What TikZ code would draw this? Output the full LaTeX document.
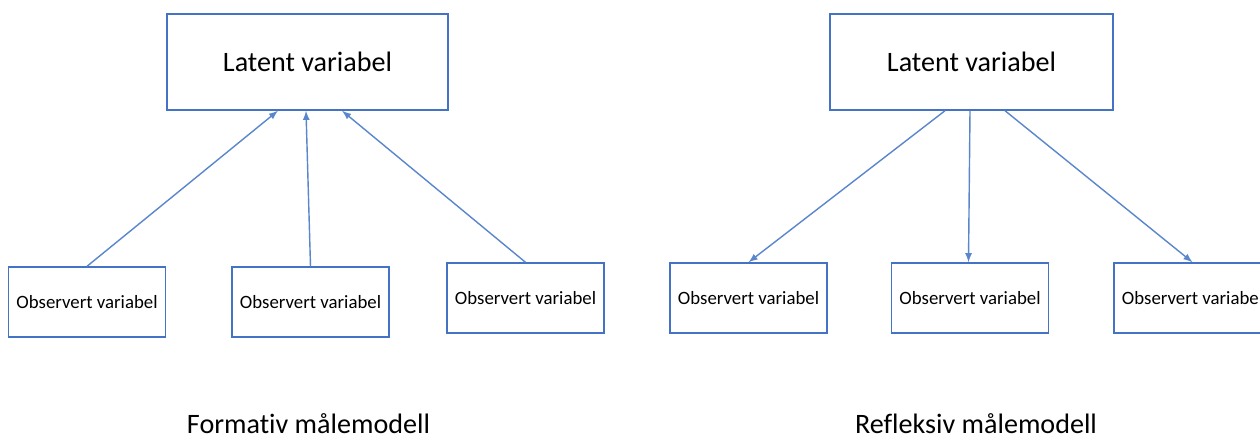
\documentclass[tikz,border=0pt]{standalone}
\usepackage{fontspec}
\setmainfont{Carlito}[Ligatures=NoCommon]
\usepackage{tikz}
\definecolor{officeblue}{HTML}{4472C4}
\definecolor{arrowblue}{HTML}{5A86CC}

\begin{document}
\begin{tikzpicture}[thick,
        latentbox/.style={draw=officeblue, line width=0.8pt, minimum width=5.62cm, minimum height=1.92cm, font=\fontsize{16}{19}\selectfont},
        obsbox/.style={draw=officeblue, line width=0.8pt, minimum width=3.14cm, minimum height=1.4cm, font=\fontsize{10.7}{13}\selectfont},
        modeltext/.style={anchor=base, font=\fontsize{16}{19}\selectfont},
        link/.style={-latex, draw=arrowblue, line width=0.8pt}]
        \clip (0, 0) rectangle (25.2, -8.72);
        \useasboundingbox (0, 0) rectangle (25.2, -8.72);

        \node[latentbox] (lat_F) at (6.15, -1.24) {Latent variabel};
        \node[latentbox, minimum width=5.66cm] (lat_R) at (19.43, -1.24) {Latent variabel};

        \node[obsbox] (obs_F1) at (1.74, -6.04) {Observert variabel};
        \node[obsbox] (obs_F2) at (6.21, -6.04) {Observert variabel};
        \node[obsbox] (obs_F3) at (10.51, -5.96) {Observert variabel};
        \node[obsbox] (obs_R1) at (14.97, -5.96) {Observert variabel};
        \node[obsbox] (obs_R2) at (19.40, -5.96) {Observert variabel};
        \node[obsbox] (obs_R3) at (23.85, -5.96) {Observert variabel};

        \node[modeltext] (textF) at (6.17, -8.66) {Formativ målemodell};
        \node[modeltext] (textR) at (19.52, -8.66) {Refleksiv målemodell};

        \draw [link] (obs_F1.north) -- ([xshift=-0.59cm]lat_F.south);
        \draw [link] (obs_F2.north) -- ([xshift=-0.03cm]lat_F.south);
        \draw [link] (obs_F3.north) -- ([xshift=0.69cm]lat_F.south);

        \draw [link] ([xshift=-0.53cm]lat_R.south) -- (obs_R1.north);
        \draw [link] ([xshift=-0.03cm]lat_R.south) -- ([xshift=-0.03cm]obs_R2.north);
        \draw [link] ([xshift=0.67cm]lat_R.south) -- (obs_R3.north);

    \end{tikzpicture}
\end{document}
